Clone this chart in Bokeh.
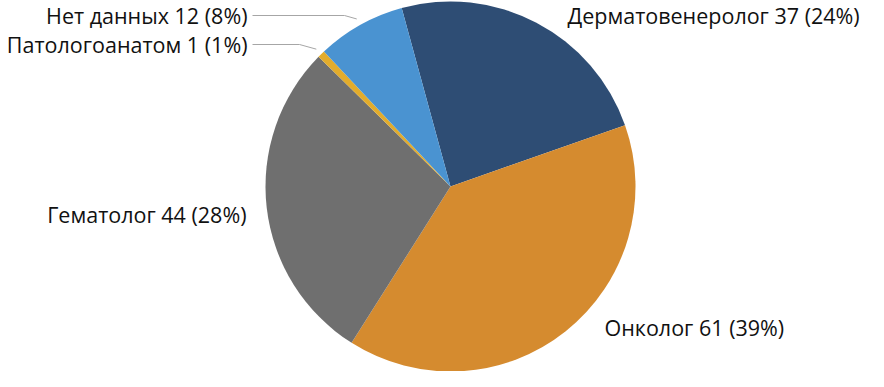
import math
from bokeh.plotting import figure
from bokeh.models import Range1d, ColumnDataSource
from bokeh.core.properties import value
from bokeh.embed import file_html
from bokeh.resources import INLINE

# ---- data ----
categories = ["Дерматовенеролог", "Онколог", "Гематолог", "Патологоанатом", "Нет данных"]
counts = [37, 61, 44, 1, 12]
percent_labels = ["24%", "39%", "28%", "1%", "8%"]
colors = ["#2E4D74", "#D58B2F", "#6F6F6F", "#E2AC2C", "#4A93D1"]

# ---- layout (pixels) ----
W, H = 868, 371
CX, CY = 450, 185          # pie centre in data (pixel) coords, y up
R = 185
FIRST_SLICE_DEG = -15.3    # clockwise from 12 o'clock
FONT = "Open Sans"
FS = "21.5px"

# label anchor (x, y_from_top in figure px), alignment
label_layout = [
    (567, 15, "left"),
    (604, 327, "left"),
    (246, 214, "right"),
    (247, 44, "right"),
    (247, 15, "right"),
]
leader_for = {3: 299, 4: 344}   # end x of horizontal leader segment

p = figure(width=W, height=H, output_backend="svg", toolbar_location=None,
           x_range=Range1d(0, W), y_range=Range1d(0, H), min_border=0)
p.axis.visible = False
p.grid.visible = False
p.outline_line_color = None
p.background_fill_color = "white"
p.border_fill_color = "white"

total = sum(counts)
starts, ends, mids = [], [], []
cum = FIRST_SLICE_DEG
for c in counts:
    a0 = cum
    a1 = cum + 360.0 * c / total
    starts.append(math.radians(90 - a0))
    ends.append(math.radians(90 - a1))
    mids.append((a0 + a1) / 2)
    cum = a1

src = ColumnDataSource(dict(start=starts, end=ends, color=colors))
p.wedge(x=CX, y=CY, radius=R, start_angle="start", end_angle="end",
        direction="clock", fill_color="color", line_color=None, source=src)

texts, xs, ys, aligns = [], [], [], []
for i, (cat, n, pc) in enumerate(zip(categories, counts, percent_labels)):
    lx, ly, al = label_layout[i]
    texts.append(f"{cat} {n} ({pc})")
    xs.append(lx)
    ys.append(H - ly)
    aligns.append(al)
    if i in leader_for:
        m = math.radians(mids[i])
        ex = CX + (R + 7) * math.sin(m)
        ey = CY + (R + 7) * math.cos(m)
        hx = leader_for[i]
        p.line([lx + 5, hx, ex], [H - ly, H - ly, ey], line_color="#A6A6A6", line_width=1)

lsrc = ColumnDataSource(dict(x=xs, y=ys, text=texts, align=aligns))
p.text(x="x", y="y", text="text", text_align="align", text_baseline="middle",
       text_font=value(FONT), text_font_size=FS, text_color="#111111", source=lsrc)

open("out.html", "w").write(file_html(p, INLINE))
